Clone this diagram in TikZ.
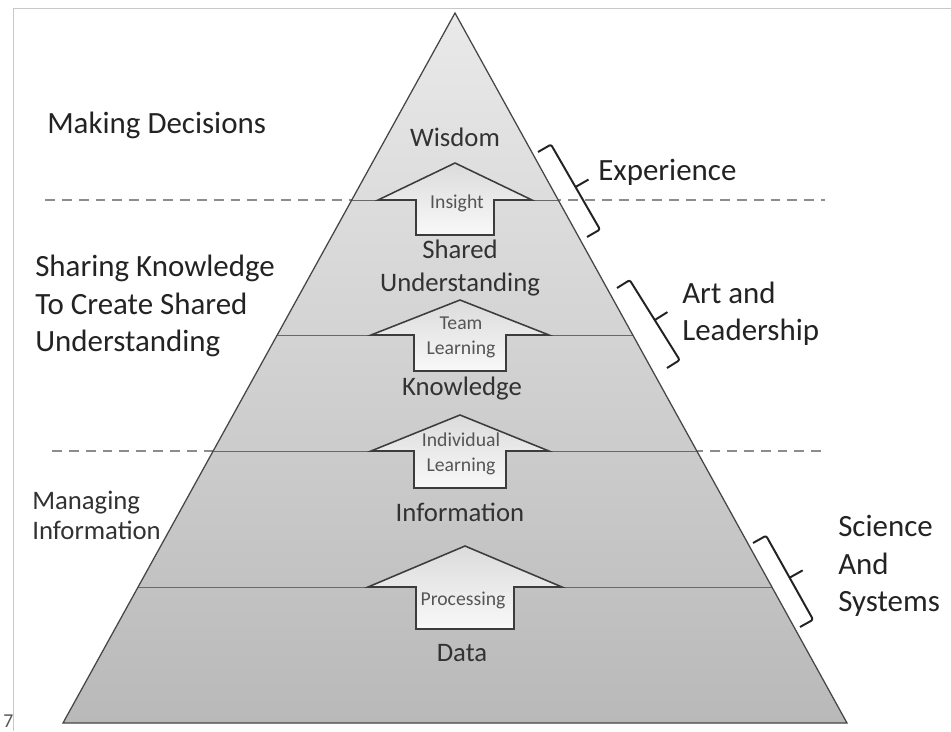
\documentclass[tikz,border=0pt]{standalone}
\usepackage{fontspec}
\setmainfont{Carlito}
\usetikzlibrary{calc}

\definecolor{txtDark}{RGB}{35,35,35}
\definecolor{txtMid}{RGB}{50,50,50}
\definecolor{txtSoft}{RGB}{85,85,85}
\definecolor{edgeGray}{RGB}{70,70,70}
\definecolor{arrEdge}{RGB}{60,60,60}
\definecolor{lineGray}{RGB}{105,105,105}
\definecolor{dashGray}{RGB}{140,140,140}
\definecolor{frameGray}{RGB}{200,200,200}

\tikzset{
	bigLbl/.style={text=txtDark, font=\fontsize{22}{26.6}\selectfont, align=left, inner sep=0pt},
	midLbl/.style={text=txtMid, font=\fontsize{19}{21.3}\selectfont, align=left, inner sep=0pt},
	lvlLbl/.style={text=txtMid, font=\fontsize{19}{23.4}\selectfont, align=center, inner sep=0pt},
	arrLbl/.style={text=txtSoft, font=\fontsize{14}{17.7}\selectfont, align=center, inner sep=0pt},
	upArrow/.style={draw=arrEdge, line width=1.1pt, top color=gray!28, bottom color=gray!5},
	bracket/.style={draw=txtDark, line width=1.4pt, line join=round, rounded corners=1.5pt},
	levelLine/.style={draw=lineGray, line width=0.7pt},
	sepDash/.style={draw=dashGray, line width=1pt, dash pattern=on 7pt off 5pt},
}

\begin{document}
\begin{tikzpicture}[x=0.025cm, y=-0.025cm]

	\useasboundingbox (0,0) rectangle (951,731);

	\def\apexX{455}
	\def\apexY{13}
	\def\baseY{723}
	\def\baseL{63}
	\def\baseR{847}
	\def\hook{0.375cm}
	\def\nub{0.75cm}

	%FRAME
	\draw[draw=frameGray, line width=0.7pt] (13,731) -- (13,8) -- (951,8);

	%DASHED
	\draw[sepDash]
		(45,200) -- (825,200)
		(52,451) -- (825,451)
	;

	%PYRAMID
	\path[top color=gray!17, bottom color=gray!55] (\apexX,\apexY) -- (\baseR,\baseY) -- (\baseL,\baseY) -- cycle;
	\begin{scope}
		\clip (\apexX,\apexY) -- (\baseR,\baseY) -- (\baseL,\baseY) -- cycle;
		\draw[levelLine]
			(0,200) -- (951,200)
			(0,335) -- (951,335)
			(0,451) -- (951,451)
			(0,587) -- (951,587)
		;
	\end{scope}
	\draw[draw=edgeGray, line width=0.9pt, line join=miter] (\apexX,\apexY) -- (\baseR,\baseY) -- (\baseL,\baseY) -- cycle;

	%ARROWS
	\foreach \cx/\tipY/\baseLn/\hw/\sw/\botY in {455/163/200/77/39/235, 460/300/335/89/46/371, 460/415/451/89/46/488, 465/546/587/97/49/629}
		\path[upArrow] (\cx,\tipY) -- (\cx+\hw,\baseLn) -- (\cx+\sw,\baseLn) -- (\cx+\sw,\botY) -- (\cx-\sw,\botY) -- (\cx-\sw,\baseLn) -- (\cx-\hw,\baseLn) -- cycle;

	\node[arrLbl] (insight) at (457,203) {Insight};
	\node[arrLbl] (team) at (461,337) {Team\\Learning};
	\node[arrLbl] (indiv) at (461,454) {Individual\\Learning};
	\node[arrLbl] (proc) at (463,600) {Processing};

	%LEVELS
	\node[lvlLbl] (wisdom) at (455,137) {Wisdom};
	\node[lvlLbl] (shared) at (460,268) {Shared\\Understanding};
	\node[lvlLbl] (knowledge) at (462,389) {Knowledge};
	\node[lvlLbl] (information) at (460,512) {Information};
	\node[lvlLbl] (data) at (462,653) {Data};

	%LEFT LABELS
	\node[bigLbl, anchor=west] (decide) at (47,125) {Making Decisions};
	\node[bigLbl, anchor=west] (sharing) at (35,306) {Sharing Knowledge\\To Create Shared\\Understanding};
	\node[midLbl, anchor=west] (managing) at (32,515) {Managing\\Information};
	\node[text=txtSoft, font=\fontsize{14}{16}\selectfont, inner sep=0pt, anchor=west] (pageNo) at (3,721) {7};

	%BRACES
	\coordinate (exp-top) at (538,152);
	\coordinate (exp-bot) at (587,237);
	\coordinate (art-top) at (617,288);
	\coordinate (art-bot) at (667,368);
	\coordinate (sci-top) at (753,543);
	\coordinate (sci-bot) at (800,627);
	\foreach \s in {exp,art,sci}{
		\coordinate (\s-mid) at ($(\s-top)!0.5!(\s-bot)$);
		\draw[bracket] (\s-top) -- ($(\s-top)!\hook!90:(\s-bot)$) -- ($(\s-mid)!\hook!90:(\s-bot)$) -- ($(\s-bot)!\hook!-90:(\s-top)$) -- (\s-bot)
			($(\s-mid)!\hook!90:(\s-bot)$) -- ($(\s-mid)!\nub!90:(\s-bot)$);
	}

	%RIGHT LABELS
	\node[bigLbl, anchor=west] (experience) at (598,172) {Experience};
	\node[bigLbl, anchor=west] (art) at (682,314) {Art and\\Leadership};
	\node[bigLbl, anchor=west] (science) at (838,566) {Science\\And\\Systems};

\end{tikzpicture}
\end{document}
